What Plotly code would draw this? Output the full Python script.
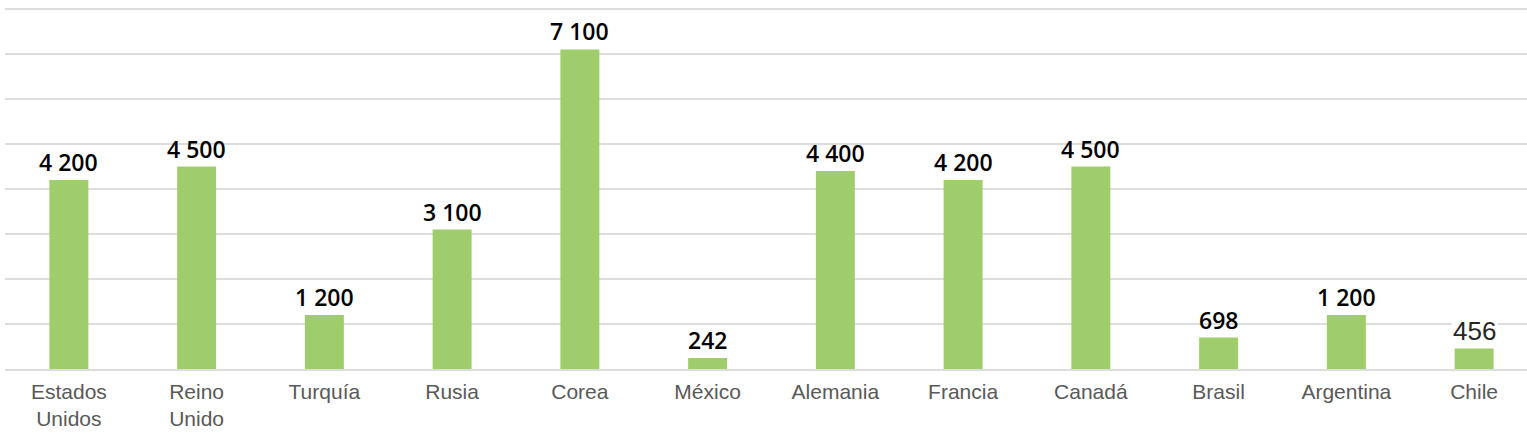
import plotly.graph_objects as go

categories = ["Estados<br>Unidos", "Reino<br>Unido", "Turquía", "Rusia", "Corea", "México",
              "Alemania", "Francia", "Canadá", "Brasil", "Argentina", "Chile"]
values = [4200, 4500, 1200, 3100, 7100, 242, 4400, 4200, 4500, 698, 1200, 456]
grid_values = [1000, 2000, 3000, 4000, 5000, 6000, 7000, 8000]

bar_color = "#9FCD6B"
grid_color = "#DDDDDD"

fig = go.Figure()
fig.add_trace(go.Bar(
    x=list(range(len(categories))), y=values,
    marker=dict(color=bar_color, line=dict(width=0)),
    hoverinfo="skip",
))

annotations = []
for i, (c, v) in enumerate(zip(categories, values)):
    label = f"{v:,}".replace(",", " ")
    if c == "Chile":
        annotations.append(dict(
            x=i, y=v, xref="x", yref="y", text=label, showarrow=False,
            yanchor="bottom", yshift=0, bgcolor="white",
            font=dict(family="Liberation Sans", size=26, color="#262626"),
            borderpad=1,
        ))
    else:
        annotations.append(dict(
            x=i, y=v, xref="x", yref="y", text=label, showarrow=False,
            yanchor="bottom", yshift=0,
            font=dict(family="Open Sans", size=23, color="#000000", weight=600),
        ))

fig.update_layout(
    width=1527, height=434,
    margin=dict(l=5, r=0, t=4, b=65, autoexpand=False),
    paper_bgcolor="white", plot_bgcolor="white",
    bargap=0.695,
    showlegend=False,
    annotations=annotations,
    xaxis=dict(
        tickmode="array", tickvals=list(range(len(categories))), ticktext=categories,
        range=[-0.5, 11.414], automargin=False,
        showgrid=False, zeroline=False,
        showline=True, linecolor=grid_color, linewidth=1.5,
        ticks="", ticklabelstandoff=3,
        tickfont=dict(family="Liberation Sans", size=21, color="#595959"),
    ),
    yaxis=dict(
        range=[0, 8111], tickvals=grid_values,
        showgrid=True, gridcolor=grid_color, gridwidth=1.5, automargin=False,
        zeroline=False, showticklabels=False, ticks="",
    ),
)

fig.write_html("out.html", config={"displayModeBar": False},
               post_script="document.body.style.margin='0';document.body.style.overflow='hidden';")
